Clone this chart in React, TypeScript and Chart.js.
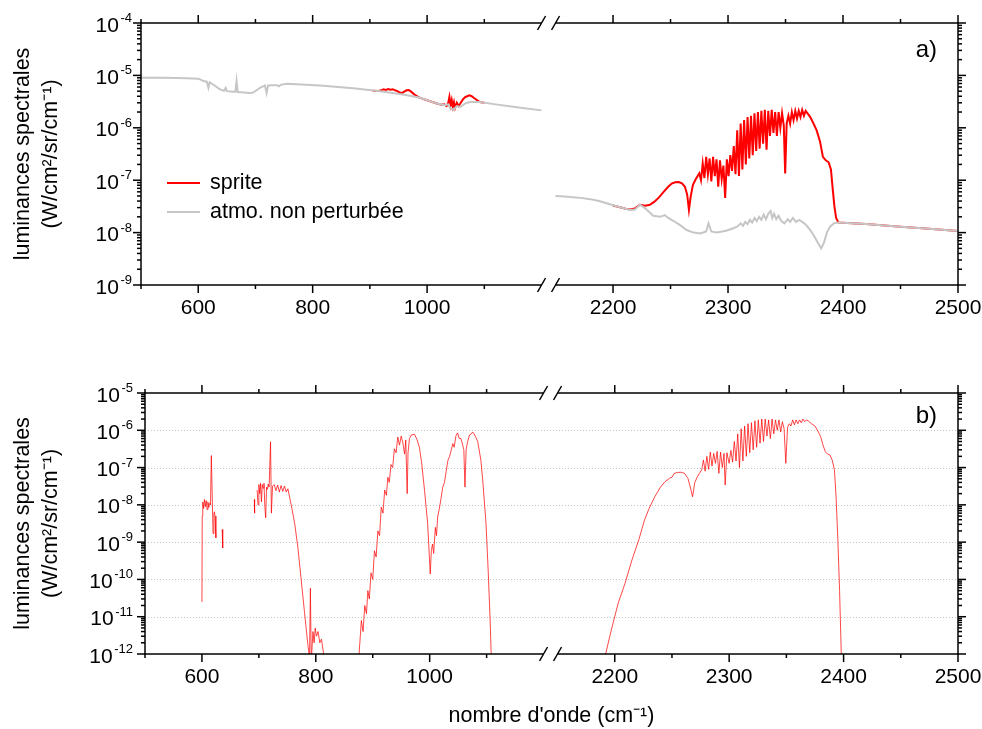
import React, { useEffect, useRef } from 'react';
import { Chart, registerables, LinearScale } from 'chart.js';

Chart.register(...registerables);

const FONT = "'Liberation Sans', Arial, Helvetica, sans-serif";
const RED = '#ff0000';
const RED_THIN = 'rgba(255,0,0,0.72)';
const GRAY = '#c6c6c6';

// ---------- axes ----------
const xLeftRange = [500, 1200];
const xRightRange = [2150, 2500];
const xLabelTicks = [600, 800, 1000, 2200, 2300, 2400, 2500];
const xMinorTicks = [500, 700, 900, 1100, 2250, 2350, 2450];
const yDecadesA = [1e-9, 1e-8, 1e-7, 1e-6, 1e-5, 1e-4];
const yDecadesB = [1e-12, 1e-11, 1e-10, 1e-9, 1e-8, 1e-7, 1e-6, 1e-5];
const yTitle = ['luminances spectrales', '(W/cm²/sr/cm⁻¹)'];
const xTitle = "nombre d'onde (cm⁻¹)";
const legendItems = [
  { text: 'sprite', color: RED },
  { text: 'atmo. non perturbée', color: GRAY },
];

// ---------- panel a) data ----------
const atmoLeftA: [number, number][] = [
  [500, 9.0e-6], [540, 9.0e-6], [580, 8.8e-6], [600, 8.65e-6], [605, 8.2e-6], [609, 7.8e-6],
  [615, 7.6e-6], [617.8, 5.8e-6], [620, 7.4e-6], [628, 6.5e-6], [638, 5.4e-6], [645, 5.1e-6],
  [648, 5.8e-6], [650, 5.0e-6], [660, 4.9e-6], [665, 4.9e-6], [667, 7.8e-6], [669, 4.8e-6],
  [680, 4.7e-6], [690, 4.6e-6], [696, 4.7e-6], [702, 5.2e-6], [708, 5.8e-6], [716.6, 6.45e-6],
  [719.5, 4.6e-6], [722, 6.4e-6], [730, 6.5e-6], [737, 6.5e-6], [741, 6.2e-6], [744, 6.6e-6],
  [755, 6.9e-6], [780, 6.7e-6], [813, 6.45e-6], [871, 5.7e-6], [918, 5.0e-6], [958, 4.3e-6],
  [988, 3.75e-6], [1017, 2.9e-6], [1031, 2.7e-6], [1037, 2.8e-6], [1040, 2.4e-6], [1046, 2.2e-6],
  [1052, 2.6e-6], [1058, 2.5e-6], [1066, 2.9e-6], [1075, 3.1e-6], [1092, 3.1e-6], [1120, 2.8e-6],
  [1160, 2.45e-6], [1200, 2.15e-6],
];
const spriteLeftA: [number, number][] = [
  [905, 5.1e-6], [915, 5.05e-6], [920, 5.2e-6], [924, 5.45e-6], [928, 5.3e-6], [932, 5.5e-6],
  [936, 5.35e-6], [940, 5.45e-6], [944, 5.2e-6], [948, 5.0e-6], [952, 4.7e-6], [956, 4.6e-6],
  [960, 4.9e-6], [964, 5.2e-6], [968, 5.25e-6], [972, 4.9e-6], [978, 4.3e-6], [984, 3.9e-6],
  [988, 3.72e-6], [1000, 3.35e-6], [1017, 2.9e-6], [1025, 2.75e-6], [1030, 2.8e-6], [1034, 2.6e-6],
  [1037, 3.0e-6], [1039, 3.9e-6], [1041, 2.7e-6], [1043, 3.4e-6], [1045, 2.5e-6], [1047, 3.1e-6],
  [1049, 2.4e-6], [1052, 3.0e-6], [1055, 2.6e-6], [1058, 2.9e-6], [1062, 3.4e-6], [1066, 3.8e-6],
  [1070, 4.0e-6], [1074, 4.15e-6], [1078, 4.0e-6], [1082, 3.7e-6], [1087, 3.4e-6], [1092, 3.1e-6],
  [1100, 3.0e-6],
];
const atmoRightA: [number, number][] = [
  [2150, 5.0e-8], [2158, 4.9e-8], [2165, 4.75e-8], [2172, 4.6e-8], [2180, 4.35e-8], [2188, 4.0e-8],
  [2195, 3.6e-8], [2201, 3.3e-8], [2206, 3.05e-8], [2211, 2.85e-8], [2215, 2.7e-8], [2219, 2.75e-8],
  [2223.5, 3.4e-8], [2228, 2.9e-8], [2235, 2.1e-8], [2241, 2.0e-8], [2245, 2.15e-8], [2248, 1.9e-8],
  [2252, 1.7e-8], [2258, 1.4e-8], [2264, 1.12e-8], [2270, 1.0e-8], [2276, 9.6e-9], [2281, 1.05e-8],
  [2283, 1.5e-8], [2285.5, 1.05e-8], [2290, 1.0e-8], [2295, 1.05e-8], [2299, 1.1e-8], [2304, 1.2e-8],
  [2308, 1.3e-8], [2311, 1.5e-8], [2313, 1.35e-8], [2315, 1.6e-8], [2317, 1.45e-8], [2319, 1.75e-8],
  [2321, 1.55e-8], [2323, 1.9e-8], [2325, 1.65e-8], [2327, 2.0e-8], [2329, 1.75e-8], [2331, 2.2e-8],
  [2333, 1.8e-8], [2335, 2.3e-8], [2337, 2.6e-8], [2338.5, 1.9e-8], [2340, 2.3e-8], [2342, 1.8e-8],
  [2344, 2.1e-8], [2346, 1.7e-8], [2349, 1.5e-8], [2352, 1.8e-8], [2354, 1.6e-8], [2356.5, 1.9e-8],
  [2359, 1.6e-8], [2362, 1.75e-8], [2365.5, 1.55e-8], [2368.5, 1.35e-8], [2371.5, 1.12e-8],
  [2375, 8.5e-9], [2378, 6.5e-9], [2381, 5.0e-9], [2383.5, 6.5e-9], [2386, 1.0e-8], [2388.7, 1.3e-8],
  [2392, 1.5e-8], [2396, 1.56e-8], [2420, 1.46e-8], [2450, 1.3e-8], [2475, 1.18e-8], [2500, 1.07e-8],
];
const spriteRightA: [number, number][] = [
  [2200, 3.3e-8], [2206, 3.05e-8], [2211, 2.85e-8], [2215, 2.75e-8], [2219, 2.9e-8], [2223.5, 3.4e-8],
  [2228, 3.25e-8], [2232, 3.4e-8], [2236, 3.9e-8], [2240, 4.7e-8], [2244, 6.0e-8], [2248, 7.5e-8],
  [2251, 8.6e-8], [2254, 9.1e-8], [2257, 9.2e-8], [2260, 8.7e-8], [2262.5, 7.5e-8], [2264.5, 5.3e-8],
  [2266, 2.7e-8], [2267.5, 4.8e-8], [2269.5, 8.2e-8], [2272, 1.05e-7], [2275, 1.35e-7], [2276.5, 1.0e-7],
  [2278, 2.1e-7], [2279.5, 1.1e-7], [2281, 2.8e-7], [2282.5, 1.3e-7], [2284, 2.6e-7], [2285.5, 9.5e-8],
  [2287, 2.8e-7], [2288.5, 1.2e-7], [2290, 2.5e-7], [2291.5, 7.5e-8], [2293, 2.4e-7], [2294.5, 1.05e-7],
  [2296, 1.9e-7], [2297.5, 4.6e-8], [2299, 2.5e-7], [2300.5, 1.2e-7], [2302, 3.0e-7], [2303.5, 1.5e-7],
  [2305, 4.5e-7], [2306.5, 1.3e-7], [2308, 9.0e-7], [2309.5, 1.2e-7], [2311, 1.2e-6], [2312.5, 1.6e-7],
  [2314, 1.4e-6], [2315.5, 2.0e-7], [2317, 1.6e-6], [2318.5, 2.6e-7], [2320, 1.7e-6], [2321.5, 3.0e-7],
  [2323, 1.9e-6], [2324.5, 3.6e-7], [2326, 2.0e-6], [2327.5, 4.0e-7], [2329, 2.1e-6], [2330.5, 5.0e-7],
  [2332, 2.2e-6], [2333.5, 3.8e-7], [2335, 2.1e-6], [2336.5, 7.0e-7], [2338, 2.2e-6], [2339.5, 8.0e-7],
  [2341, 2.0e-6], [2342.5, 7.0e-7], [2344, 2.0e-6], [2345.5, 1.0e-6], [2347, 1.9e-6], [2348.5, 1.1e-6],
  [2349.7, 1.35e-7], [2351, 1.2e-6], [2352.5, 1.7e-6], [2354, 1.2e-6], [2355.5, 2.0e-6], [2357, 1.4e-6],
  [2358.5, 2.1e-6], [2360, 1.5e-6], [2361.5, 2.1e-6], [2363, 1.6e-6], [2364.5, 2.2e-6], [2366, 1.7e-6],
  [2367.5, 2.1e-6], [2369, 1.9e-6], [2371.5, 1.6e-6], [2374, 1.25e-6], [2377, 9.0e-7], [2380, 5.5e-7],
  [2382.5, 2.8e-7], [2385, 2.4e-7], [2387.5, 2.2e-7], [2389.5, 1.6e-7], [2391, 7.0e-8], [2392.5, 3.2e-8],
  [2394, 1.9e-8], [2396, 1.56e-8], [2420, 1.46e-8], [2450, 1.3e-8], [2475, 1.18e-8], [2500, 1.07e-8],
];

// ---------- panel b) data (sprite minus unperturbed atmosphere) ----------
const diffLeftB: [number, number | null][] = [
  [600, 2.5e-11], [600.5, 5e-9], [601.5, 1.2e-8], [603, 8e-9], [604.5, 1.4e-8], [606, 9e-9],
  [607.5, 1.3e-8], [609, 7.5e-9], [610.5, 1.2e-8], [612, 8.5e-9], [613.5, 1.1e-8], [615, 1.0e-8],
  [616.5, 2.1e-7], [619.5, 1.7e-9], [621, 6e-9], [622, 6.5e-9], [623, 5e-9], [624.5, 1.3e-9],
  [628, null], [635.5, 2.2e-9], [636.5, 7e-10], [640, null],
  [692, 1.4e-8], [692.5, 6e-9], [695, null],
  [697, 2.5e-8], [698.5, 1.0e-8], [700, 3.5e-8], [701.5, 2.0e-8], [703, 3.8e-8], [704.5, 1.2e-8],
  [706, 3.5e-8], [707.5, 2.8e-8], [709, 3.8e-8], [710.5, 9e-9], [712, 4.5e-9], [713.5, 3.0e-8],
  [715, 2.6e-8], [716.5, 3.6e-8], [718, 3.0e-8], [720.5, 4.9e-7], [722, 6e-9], [724, 3.2e-8],
  [727, 3.5e-8], [730, 2.4e-8], [733, 3.4e-8], [736, 2.2e-8], [739, 3.3e-8], [742, 2.3e-8],
  [745, 3.2e-8], [748, 2.2e-8], [751, 2.7e-8], [754, 1.6e-8], [758, 8e-9], [763, 3.1e-9],
  [768.5, 7.2e-10], [774, 1.1e-10], [780, 1.4e-11], [786, 1.8e-12], [789, 8e-13], [790.5, 5.8e-11],
  [792, 6e-13], [795, 4e-12], [797, 2e-12], [799, 5e-12], [801, 3e-12], [804, 4e-12], [807, 2e-12],
  [810, 2.5e-12], [813, 1.2e-12], [816.5, 5e-13], [830, null],
  [872, 5e-13], [876, 1e-12], [880, 7.9e-12], [883, 4e-12], [886, 2e-11], [889, 1.2e-11],
  [891.4, 5e-11], [894, 3e-11], [897, 1.5e-10], [900, 1e-10], [903, 5.9e-10], [906, 4e-10],
  [909, 2e-9], [912, 1.5e-9], [915, 8.7e-9], [918, 6e-9], [921, 2.5e-8], [924, 1.8e-8],
  [926.5, 5.5e-8], [929, 4e-8], [932, 1.2e-7], [935, 1.0e-7], [938, 3.2e-7], [941, 2.5e-7],
  [944, 6.6e-7], [947, 4e-7], [950, 7e-7], [953, 4.5e-7], [956, 2.3e-7], [958, 5.5e-7],
  [960.5, 2e-8], [962, 2.5e-7], [964.5, 6e-7], [968, 7.5e-7], [973.3, 7.8e-7], [978, 5.5e-7],
  [982, 3.5e-7], [986, 1.3e-7], [991, 2.4e-8], [996.5, 3.1e-9], [1001, 1.4e-10], [1003, 6e-10],
  [1005, 8.9e-10], [1007, 5e-10], [1010, 2.5e-9], [1012, 1.5e-9], [1014, 4.7e-9], [1017, 8e-9],
  [1020, 1.5e-8], [1023, 3e-8], [1026, 4e-8], [1029, 8e-8], [1032, 1.55e-7], [1035, 2e-7],
  [1038, 3e-7], [1040.6, 4.4e-7], [1043, 3.5e-7], [1046, 7e-7], [1049, 8.5e-7], [1052, 6e-7],
  [1055, 6e-7], [1058, 4e-7], [1060, 3e-7], [1062, 3e-8], [1064, 3e-7], [1066.7, 5e-7],
  [1070, 7.5e-7], [1073, 8e-7], [1075.5, 9e-7], [1078, 8e-7], [1081, 6.5e-7], [1084.4, 5e-7],
  [1090, 1.55e-7], [1093, 5e-8], [1099, 3.1e-9], [1103, 1.4e-10], [1106.5, 6e-12], [1108, 1e-12],
  [1109, 1e-13],
];
const diffRightB: [number, number][] = [
  [2190, 1e-13], [2192, 1.0e-12], [2197, 4.4e-12], [2203, 2.3e-11], [2209, 7.9e-11], [2215, 3.3e-10],
  [2221, 1.15e-9], [2226, 3.9e-9], [2230, 8e-9], [2235, 1.65e-8], [2240, 3e-8], [2244, 4.2e-8],
  [2248, 5.2e-8], [2250, 5.5e-8], [2252, 7e-8], [2255, 7.4e-8], [2258, 7.5e-8], [2261, 7.0e-8],
  [2264, 5.1e-8], [2266, 3e-8], [2268, 1.65e-8], [2270, 4e-8], [2272, 5.5e-8], [2274, 7e-8],
  [2276, 8.7e-8], [2277.5, 1.6e-7], [2279, 8e-8], [2280.5, 2.0e-7], [2282, 9e-8], [2283.5, 2.6e-7],
  [2285, 1.1e-7], [2286.5, 2.4e-7], [2288, 1.3e-7], [2289.5, 2.7e-7], [2291, 7e-8], [2292.5, 2.6e-7],
  [2294, 1.0e-7], [2295.5, 2.4e-7], [2296.5, 3.4e-8], [2298, 2.5e-7], [2300, 1.3e-7], [2301.5, 2.9e-7],
  [2303, 1.4e-7], [2304.5, 5e-7], [2306, 1.5e-7], [2307.5, 8e-7], [2309, 1.0e-7], [2310.5, 1.1e-6],
  [2312, 1.5e-7], [2313.5, 1.3e-6], [2315, 2.0e-7], [2316.5, 1.5e-6], [2318, 2.5e-7], [2319.5, 1.6e-6],
  [2321, 3e-7], [2322.5, 1.8e-6], [2324, 3.5e-7], [2325.5, 1.9e-6], [2327, 4.5e-7], [2328.5, 2.0e-6],
  [2330, 5e-7], [2331.5, 2.0e-6], [2333, 7e-7], [2334.5, 1.9e-6], [2336, 6e-7], [2337.5, 2.0e-6],
  [2339, 8e-7], [2340.5, 1.9e-6], [2342, 1.0e-6], [2343.5, 1.9e-6], [2345, 9e-7], [2346.5, 1.7e-6],
  [2348, 1.1e-6], [2349.5, 1.3e-7], [2351, 1.2e-6], [2352.5, 1.5e-6], [2354, 1.3e-6], [2355.5, 1.9e-6],
  [2357, 1.4e-6], [2358.5, 1.9e-6], [2360, 1.5e-6], [2361.5, 1.9e-6], [2363, 1.6e-6], [2364.5, 2.0e-6],
  [2366, 1.7e-6], [2367.5, 1.9e-6], [2369, 1.8e-6], [2372, 1.5e-6], [2375, 1.3e-6], [2378, 9e-7],
  [2380, 6.7e-7], [2382, 4e-7], [2384, 2.7e-7], [2386, 2.3e-7], [2388, 2.2e-7], [2390, 1.6e-7],
  [2392, 8.7e-8], [2393.5, 1.5e-8], [2395, 1.15e-9], [2396.5, 5e-11], [2398, 1e-12], [2399, 1e-13],
];

// ---------- broken linear x scale ----------
class BrokenLinearScale extends (LinearScale as any) {
  static id = 'brokenLinear';
  static defaults = {};
  _brk() {
    const b = this.options.brk;
    const L = this._length || 1;
    const gapD = b.gapPx / L;
    const leftD = b.leftWeight * (1 - gapD);
    return { a0: b.left[0], a1: b.left[1], b0: b.right[0], b1: b.right[1], gapD, leftD };
  }
  getPixelForValue(value: number) {
    const s = this._brk();
    let d;
    if (value <= s.a1) d = ((value - s.a0) / (s.a1 - s.a0)) * s.leftD;
    else if (value >= s.b0) d = s.leftD + s.gapD + ((value - s.b0) / (s.b1 - s.b0)) * (1 - s.leftD - s.gapD);
    else d = s.leftD + (s.gapD * (value - s.a1)) / (s.b0 - s.a1);
    return this.getPixelForDecimal(d);
  }
  getValueForPixel(pixel: number) {
    const s = this._brk();
    const d = this.getDecimalForPixel(pixel);
    if (d <= s.leftD) return s.a0 + (d / s.leftD) * (s.a1 - s.a0);
    if (d >= s.leftD + s.gapD) return s.b0 + ((d - s.leftD - s.gapD) / (1 - s.leftD - s.gapD)) * (s.b1 - s.b0);
    return s.a1 + ((d - s.leftD) / s.gapD) * (s.b0 - s.a1);
  }
  buildTicks() {
    return this.options.brk.labels.map((v: number) => ({ value: v }));
  }
}
Chart.register(BrokenLinearScale as any);

const toXY = (arr: [number, number | null][]) => arr.map(([x, y]) => ({ x, y }));

type FrameCfg = {
  decades: number[];
  grid: boolean;
  label: string;
  labelDx: number;
  labelDy: number;
  tickLabelGap: number;
  legend?: { text: string; color: string }[];
};

function makeFramePlugin(cfg: FrameCfg) {
  return {
    id: 'frame',
    beforeDatasetsDraw(chart: any) {
      if (!cfg.grid) return;
      const { ctx, chartArea: ca } = chart;
      const ys = chart.scales.y;
      ctx.save();
      ctx.strokeStyle = '#c4c4c4';
      ctx.lineWidth = 1;
      ctx.setLineDash([1, 2]);
      cfg.decades.slice(1, -1).forEach((v) => {
        const py = Math.round(ys.getPixelForValue(v)) + 0.5;
        ctx.beginPath();
        ctx.moveTo(ca.left, py);
        ctx.lineTo(ca.right, py);
        ctx.stroke();
      });
      ctx.restore();
    },
    afterDraw(chart: any) {
      const { ctx, chartArea: ca } = chart;
      const xs = chart.scales.x;
      const ys = chart.scales.y;
      const xa = xs.getPixelForValue(xLeftRange[1]);
      const xb = xs.getPixelForValue(xRightRange[0]);
      ctx.save();
      ctx.strokeStyle = '#000';
      ctx.lineWidth = 1.5;
      const seg = (x1: number, y1: number, x2: number, y2: number) => {
        ctx.beginPath();
        ctx.moveTo(x1, y1);
        ctx.lineTo(x2, y2);
        ctx.stroke();
      };
      seg(ca.left, ca.top - 0.75, ca.left, ca.bottom + 0.75);
      seg(ca.right, ca.top - 0.75, ca.right, ca.bottom + 0.75);
      for (const Y of [ca.top, ca.bottom]) {
        seg(ca.left, Y, xa, Y);
        seg(xb, Y, ca.right, Y);
        for (const X of [xa, xb]) seg(X - 4, Y + 7, X + 4, Y - 7);
      }
      const xt = (v: number, len: number) => {
        const px = xs.getPixelForValue(v);
        seg(px, ca.bottom, px, ca.bottom + len);
        seg(px, ca.top, px, ca.top - len);
      };
      xLabelTicks.forEach((v) => xt(v, 8));
      xMinorTicks.forEach((v) => xt(v, 4));
      const yt = (v: number, len: number) => {
        const py = ys.getPixelForValue(v);
        seg(ca.left, py, ca.left - len, py);
        seg(ca.right, py, ca.right + len, py);
      };
      cfg.decades.forEach((v) => yt(v, 8));
      for (let i = 0; i < cfg.decades.length - 1; i++) {
        for (let k = 2; k <= 9; k++) yt(cfg.decades[i] * k, 4);
      }
      // y tick labels: 10 with raised exponent
      ctx.fillStyle = '#000';
      ctx.textBaseline = 'alphabetic';
      ctx.textAlign = 'left';
      const rightEdge = ca.left - cfg.tickLabelGap;
      cfg.decades.forEach((v) => {
        const py = ys.getPixelForValue(v);
        const exp = String(Math.round(Math.log10(v)));
        ctx.font = `13px ${FONT}`;
        const ew = ctx.measureText(exp).width;
        ctx.font = `21px ${FONT}`;
        const bw = ctx.measureText('10').width;
        ctx.fillText('10', rightEdge - ew - 1.5 - bw, py + 8.5);
        ctx.font = `13px ${FONT}`;
        ctx.fillText(exp, rightEdge - ew, py - 1);
      });
      // legend
      if (cfg.legend) {
        ctx.font = `21.5px ${FONT}`;
        ctx.textBaseline = 'middle';
        ctx.textAlign = 'left';
        cfg.legend.forEach((it, i) => {
          const y = ca.top + 160 + i * 29;
          ctx.strokeStyle = it.color;
          ctx.lineWidth = 2;
          seg(ca.left + 26, y, ca.left + 59, y);
          ctx.fillStyle = '#000';
          ctx.fillText(it.text, ca.left + 69, y);
        });
      }
      // panel label
      ctx.font = `24px ${FONT}`;
      ctx.fillStyle = '#000';
      ctx.textAlign = 'right';
      ctx.textBaseline = 'alphabetic';
      ctx.fillText(cfg.label, ca.right - cfg.labelDx, ca.top + cfg.labelDy);
      ctx.restore();
    },
  };
}

function makeConfig(opts: {
  datasets: any[];
  decades: number[];
  yWidth: number;
  xHeight: number;
  padTop: number;
  showXTitle: boolean;
  frame: FrameCfg;
}) {
  return {
    type: 'line' as const,
    data: { datasets: opts.datasets },
    plugins: [makeFramePlugin(opts.frame)],
    options: {
      animation: false,
      responsive: true,
      maintainAspectRatio: false,
      events: [],
      layout: { padding: { top: opts.padTop, right: 24, left: 0, bottom: 0 } },
      elements: { point: { radius: 0 }, line: { tension: 0 } },
      plugins: { legend: { display: false }, tooltip: { enabled: false } },
      scales: {
        x: {
          type: 'brokenLinear',
          position: 'bottom',
          min: 500,
          max: 2500,
          brk: { left: xLeftRange, right: xRightRange, leftWeight: 0.4988, gapPx: 14, labels: xLabelTicks },
          afterFit: (s: any) => {
            s.height = opts.xHeight;
            s.paddingLeft = 0;
            s.paddingRight = 0;
          },
          grid: { display: false, drawTicks: false },
          border: { display: false },
          ticks: {
            callback: (v: any) => String(v),
            font: { family: FONT, size: 21 },
            color: '#000',
            padding: 11,
            autoSkip: false,
            maxRotation: 0,
            minRotation: 0,
          },
          title: {
            display: opts.showXTitle,
            text: xTitle,
            font: { family: FONT, size: 21.5, lineHeight: 1.2 },
            color: '#000',
            padding: { top: 0, bottom: 0 },
          },
        },
        y: {
          type: 'logarithmic',
          position: 'left',
          min: opts.decades[0],
          max: opts.decades[opts.decades.length - 1],
          afterBuildTicks: (s: any) => {
            s.ticks = opts.decades.map((v) => ({ value: v }));
          },
          afterFit: (s: any) => {
            s.width = opts.yWidth;
            s.paddingTop = 0;
            s.paddingBottom = 0;
          },
          grid: { display: false, drawTicks: false },
          border: { display: false },
          ticks: { display: false, autoSkip: false },
          title: {
            display: true,
            text: yTitle,
            font: { family: FONT, size: 21.5, lineHeight: 1.3 },
            color: '#000',
            padding: { top: 9, bottom: 0 },
          },
        },
      },
    },
  };
}

export default function App() {
  const refA = useRef<HTMLCanvasElement>(null);
  const refB = useRef<HTMLCanvasElement>(null);

  useEffect(() => {
    const line = (data: any[], color: string, width: number) => ({
      data,
      borderColor: color,
      backgroundColor: color,
      borderWidth: width,
      pointRadius: 0,
      fill: false,
      spanGaps: false,
    });
    const chartA = new Chart(
      refA.current as HTMLCanvasElement,
      makeConfig({
        datasets: [
          { label: legendItems[1].text, ...line(toXY(atmoLeftA), GRAY, 2) },
          { label: legendItems[1].text, ...line(toXY(atmoRightA), GRAY, 2) },
          { label: legendItems[0].text, ...line(toXY(spriteLeftA), RED, 2) },
          { label: legendItems[0].text, ...line(toXY(spriteRightA), RED, 2) },
        ],
        decades: yDecadesA,
        yWidth: 141,
        xHeight: 65,
        padTop: 23,
        showXTitle: false,
        frame: {
          decades: yDecadesA, grid: false, label: 'a)', labelDx: 21, labelDy: 34, tickLabelGap: 9,
          legend: legendItems,
        },
      }) as any
    );
    const chartB = new Chart(
      refB.current as HTMLCanvasElement,
      makeConfig({
        datasets: [
          { label: legendItems[0].text, ...line(toXY(diffLeftB), RED_THIN, 1) },
          { label: legendItems[0].text, ...line(toXY(diffRightB), RED_THIN, 1) },
        ],
        decades: yDecadesB,
        yWidth: 145,
        xHeight: 75,
        padTop: 43,
        showXTitle: true,
        frame: { decades: yDecadesB, grid: true, label: 'b)', labelDx: 21, labelDy: 30, tickLabelGap: 12 },
      }) as any
    );
    return () => {
      chartA.destroy();
      chartB.destroy();
    };
  }, []);

  return (
    <div style={{ position: 'fixed', left: 0, top: 0, width: 982, height: 729, background: '#fff' }}>
      <div style={{ position: 'absolute', left: 0, top: 0, width: 982, height: 350 }}>
        <canvas ref={refA} />
      </div>
      <div style={{ position: 'absolute', left: 0, top: 350, width: 982, height: 379 }}>
        <canvas ref={refB} />
      </div>
    </div>
  );
}
